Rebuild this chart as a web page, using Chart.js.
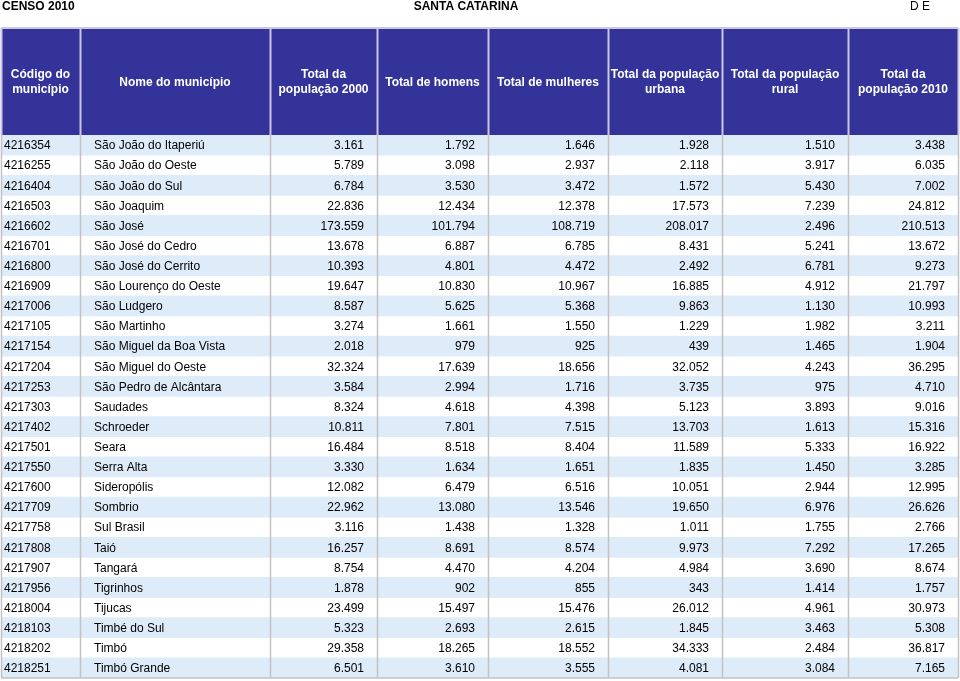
<!DOCTYPE html>
<html>
<head>
<meta charset="utf-8">
<script src="https://cdn.jsdelivr.net/npm/chart.js@4.4.0/dist/chart.umd.min.js"></script>
<style>
  html, body { margin: 0; padding: 0; background: #fff; }
  #wrap { position: relative; width: 960px; height: 681px; }
</style>
</head>
<body>
<div id="wrap"><canvas id="tbl" width="960" height="681"></canvas></div>
<script>
const codes = [4216354, 4216255, 4216404, 4216503, 4216602, 4216701, 4216800, 4216909, 4217006,
  4217105, 4217154, 4217204, 4217253, 4217303, 4217402, 4217501, 4217550, 4217600, 4217709,
  4217758, 4217808, 4217907, 4217956, 4218004, 4218103, 4218202, 4218251];
const names = ['São João do Itaperiú', 'São João do Oeste', 'São João do Sul', 'São Joaquim', 'São José',
  'São José do Cedro', 'São José do Cerrito', 'São Lourenço do Oeste', 'São Ludgero', 'São Martinho',
  'São Miguel da Boa Vista', 'São Miguel do Oeste', 'São Pedro de Alcântara', 'Saudades', 'Schroeder',
  'Seara', 'Serra Alta', 'Sideropólis', 'Sombrio', 'Sul Brasil', 'Taió', 'Tangará', 'Tigrinhos',
  'Tijucas', 'Timbé do Sul', 'Timbó', 'Timbó Grande'];
const pop2000 = [3161, 5789, 6784, 22836, 173559, 13678, 10393, 19647, 8587, 3274, 2018, 32324, 3584,
  8324, 10811, 16484, 3330, 12082, 22962, 3116, 16257, 8754, 1878, 23499, 5323, 29358, 6501];
const homens = [1792, 3098, 3530, 12434, 101794, 6887, 4801, 10830, 5625, 1661, 979, 17639, 2994,
  4618, 7801, 8518, 1634, 6479, 13080, 1438, 8691, 4470, 902, 15497, 2693, 18265, 3610];
const mulheres = [1646, 2937, 3472, 12378, 108719, 6785, 4472, 10967, 5368, 1550, 925, 18656, 1716,
  4398, 7515, 8404, 1651, 6516, 13546, 1328, 8574, 4204, 855, 15476, 2615, 18552, 3555];
const urbana = [1928, 2118, 1572, 17573, 208017, 8431, 2492, 16885, 9863, 1229, 439, 32052, 3735,
  5123, 13703, 11589, 1835, 10051, 19650, 1011, 9973, 4984, 343, 26012, 1845, 34333, 4081];
const rural = [1510, 3917, 5430, 7239, 2496, 5241, 6781, 4912, 1130, 1982, 1465, 4243, 975,
  3893, 1613, 5333, 1450, 2944, 6976, 1755, 7292, 3690, 1414, 4961, 3463, 2484, 3084];
const pop2010 = [3438, 6035, 7002, 24812, 210513, 13672, 9273, 21797, 10993, 3211, 1904, 36295, 4710,
  9016, 15316, 16922, 3285, 12995, 26626, 2766, 17265, 8674, 1757, 30973, 5308, 36817, 7165];
const headers = [
  ['Código do', 'município'], ['Nome do município'], ['Total da', 'população 2000'],
  ['Total de homens'], ['Total de mulheres'], ['Total da população', 'urbana'],
  ['Total da população', 'rural'], ['Total da', 'população 2010']
];

// layout (x scale units), not data
const colEdges = [0, 79, 269, 376, 487, 607, 721, 847, 957];
const HEAD_TOP = 28;
const FONT = '"Liberation Sans", Arial, Helvetica, sans-serif';

const fmt = n => String(n).replace(/\B(?=(\d{3})+(?!\d))/g, '.');

const columns = [codes, names, pop2000, homens, mulheres, urbana, rural, pop2010];

const tablePlugin = {
  id: 'tablePlugin',
  afterDatasetsDraw(chart) {
    const ctx = chart.ctx;
    const xs = chart.scales.x;
    const ys = chart.scales.y;
    const area = chart.chartArea;
    const px = v => xs.getPixelForValue(v);

    ctx.save();
    // top line
    ctx.fillStyle = '#000';
    ctx.textBaseline = 'middle';
    ctx.font = 'bold 12px ' + FONT;
    ctx.textAlign = 'left';
    ctx.fillText('CENSO 2010', 2, 7);
    ctx.textAlign = 'center';
    ctx.fillText('SANTA CATARINA', 466, 7);
    ctx.font = '12px ' + FONT;
    ctx.textAlign = 'left';
    ctx.fillText('D E', 910, 7);

    // header band
    ctx.fillStyle = '#333399';
    ctx.fillRect(px(0), HEAD_TOP, px(957) - px(0), area.top - HEAD_TOP);
    ctx.fillStyle = '#fff';
    ctx.font = 'bold 12px ' + FONT;
    ctx.textAlign = 'center';
    const hMid = (HEAD_TOP + area.top) / 2 + 1;
    headers.forEach((lines, c) => {
      const cx = (px(colEdges[c]) + px(colEdges[c + 1])) / 2;
      const y0 = hMid - (lines.length - 1) * 7.5;
      lines.forEach((t, k) => ctx.fillText(t, cx, y0 + k * 15));
    });

    // cells
    ctx.fillStyle = '#000';
    ctx.font = '12px ' + FONT;
    codes.forEach((code, i) => {
      const y = ys.getPixelForValue(i) + 1;
      columns.forEach((col, c) => {
        if (c === 0) {
          ctx.textAlign = 'left';
          ctx.fillText(String(col[i]), px(colEdges[0]) + 3, y);
        } else if (c === 1) {
          ctx.textAlign = 'left';
          ctx.fillText(col[i], px(colEdges[1]) + 14, y);
        } else {
          ctx.textAlign = 'right';
          ctx.fillText(fmt(col[i]), px(colEdges[c + 1]) - 13, y);
        }
      });
    });

    // grid lines
    colEdges.forEach(e => {
      const x = Math.round(px(e)) + 0.5;
      ctx.strokeStyle = '#c9c9e2';
      ctx.lineWidth = 2;
      ctx.beginPath();
      ctx.moveTo(x, HEAD_TOP);
      ctx.lineTo(x, area.top);
      ctx.stroke();
      ctx.strokeStyle = '#c2c2c2';
      ctx.lineWidth = 1.5;
      ctx.beginPath();
      ctx.moveTo(x, area.top);
      ctx.lineTo(x, area.bottom);
      ctx.stroke();
    });
    ctx.strokeStyle = '#c9c9e2';
    ctx.lineWidth = 2;
    ctx.beginPath();
    ctx.moveTo(px(0), HEAD_TOP);
    ctx.lineTo(px(957), HEAD_TOP);
    ctx.stroke();
    ctx.strokeStyle = '#c2c2c2';
    ctx.lineWidth = 1.5;
    ctx.beginPath();
    ctx.moveTo(px(0), area.bottom);
    ctx.lineTo(px(957), area.bottom);
    ctx.stroke();
    ctx.restore();
  }
};

new Chart(document.getElementById('tbl'), {
  type: 'bar',
  data: {
    labels: codes.map(String),
    datasets: [{
      // alternating row shading
      data: codes.map((c, i) => (i % 2 === 0 ? [0, 957] : null)),
      backgroundColor: '#deebf9',
      borderWidth: 0,
      barPercentage: 1,
      categoryPercentage: 1
    }]
  },
  options: {
    indexAxis: 'y',
    responsive: false,
    animation: false,
    devicePixelRatio: 1,
    events: [],
    layout: { padding: { top: 135, left: 1, right: 2, bottom: 3 } },
    plugins: { legend: { display: false }, tooltip: { enabled: false } },
    scales: {
      x: { type: 'linear', min: 0, max: 957, display: false },
      y: { type: 'category', offset: true, display: false }
    }
  },
  plugins: [tablePlugin]
});
</script>
</body>
</html>
